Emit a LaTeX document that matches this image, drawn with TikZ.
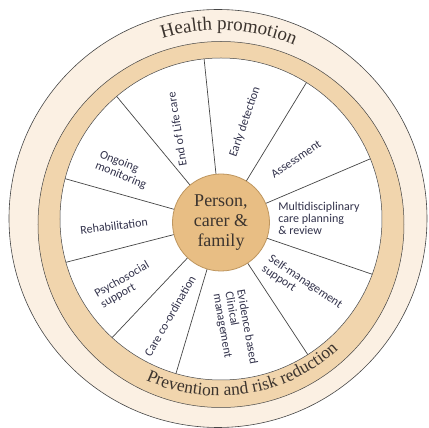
\documentclass[tikz,border=0pt]{standalone}
\usepackage{fontspec}
\setmainfont{Liberation Serif}
\newfontfamily\labelfont{Carlito}
\usetikzlibrary{decorations.text}

\newcommand{\curvefont}{\fontsize{19}{20}\selectfont}
\newcommand{\curvefontb}{\fontsize{17.5}{20}\selectfont}

\begin{document}
\begin{tikzpicture}[x=1pt, y=1pt, font=\labelfont\fontsize{12}{12}\selectfont]
        % Kolory
        \definecolor{fillCream}{RGB}{251, 240, 227}
        \definecolor{fillBand}{RGB}{241, 213, 173}
        \definecolor{fillHub}{RGB}{232, 190, 132}
        \definecolor{lineHub}{RGB}{190, 150, 95}
        \definecolor{lineGray}{RGB}{70, 70, 70}
        \definecolor{textNavy}{RGB}{50, 50, 75}
        \definecolor{textBrown}{RGB}{60, 52, 46}

        \useasboundingbox (-219, -209) rectangle (210, 219);

        % Pierscienie
        \filldraw[fillCream, draw=lineGray, line width=0.6pt] (-1, 0.5) circle (209);
        \filldraw[fillBand, draw=lineGray, line width=0.5pt] (2, -5.5) circle (183);
        \filldraw[white, draw=lineGray, line width=0.5pt] (2, 0) circle (161);

        % Szprychy
        \coordinate (hc) at (2, -3.5);
        \begin{scope}
            \clip (2, 0) circle (161);
            \foreach \a in {95.9, 58.6, 23.1, -18.9, -56.7, -106.6, -133.4, -165.6, 164.3, 129.6}
                \draw[lineGray, line width=0.7pt] (hc) -- ++(\a:200);
        \end{scope}

        \node[circle, minimum size=97pt, inner sep=0pt, fill=fillHub, draw=lineHub,
            line width=0.8pt, text=textBrown, align=center,
            font=\rmfamily\fontsize{18}{20}\selectfont] (hub) at (hc)
            {Person,\\carer \&\\family};

        % Etykiety
        \foreach \lx/\ly/\lrot/\ltext [count=\li] in {
            -42/90/99/{End of Life care},
            26/97/71/{Early detection},
            77/60/34/{Assessment},
            100/1/0/{Multidisciplinary\\care planning\\\& review},
            83/-68/-34/{Self-management\\support},
            16/-110/-80/{Evidence based\\Clinical\\management},
            -49/-97/60/{Care co-ordination},
            -94/-66/30/{Psychosocial\\support},
            -105/-7/7/{Rehabilitation},
            -96/49/-22/{Ongoing\\monitoring}%
        } {
            \node[textNavy, rotate=\lrot, align=left, inner sep=1pt] (lab\li) at (\lx, \ly) {\ltext};
        }

        % Napisy na obwodzie
        \path[decorate, decoration={text along path, text align=center, text color=textBrown,
            text={|\curvefont|Health promotion}}]
            (130:189) arc[start angle=130, end angle=44, radius=189];
        \path[decorate, decoration={text along path, text align=center, text color=textBrown,
            text={|\curvefontb|Prevention and risk reduction}}]
            (-146:177) arc[start angle=-146, end angle=-16, radius=177];
    \end{tikzpicture}
\end{document}
